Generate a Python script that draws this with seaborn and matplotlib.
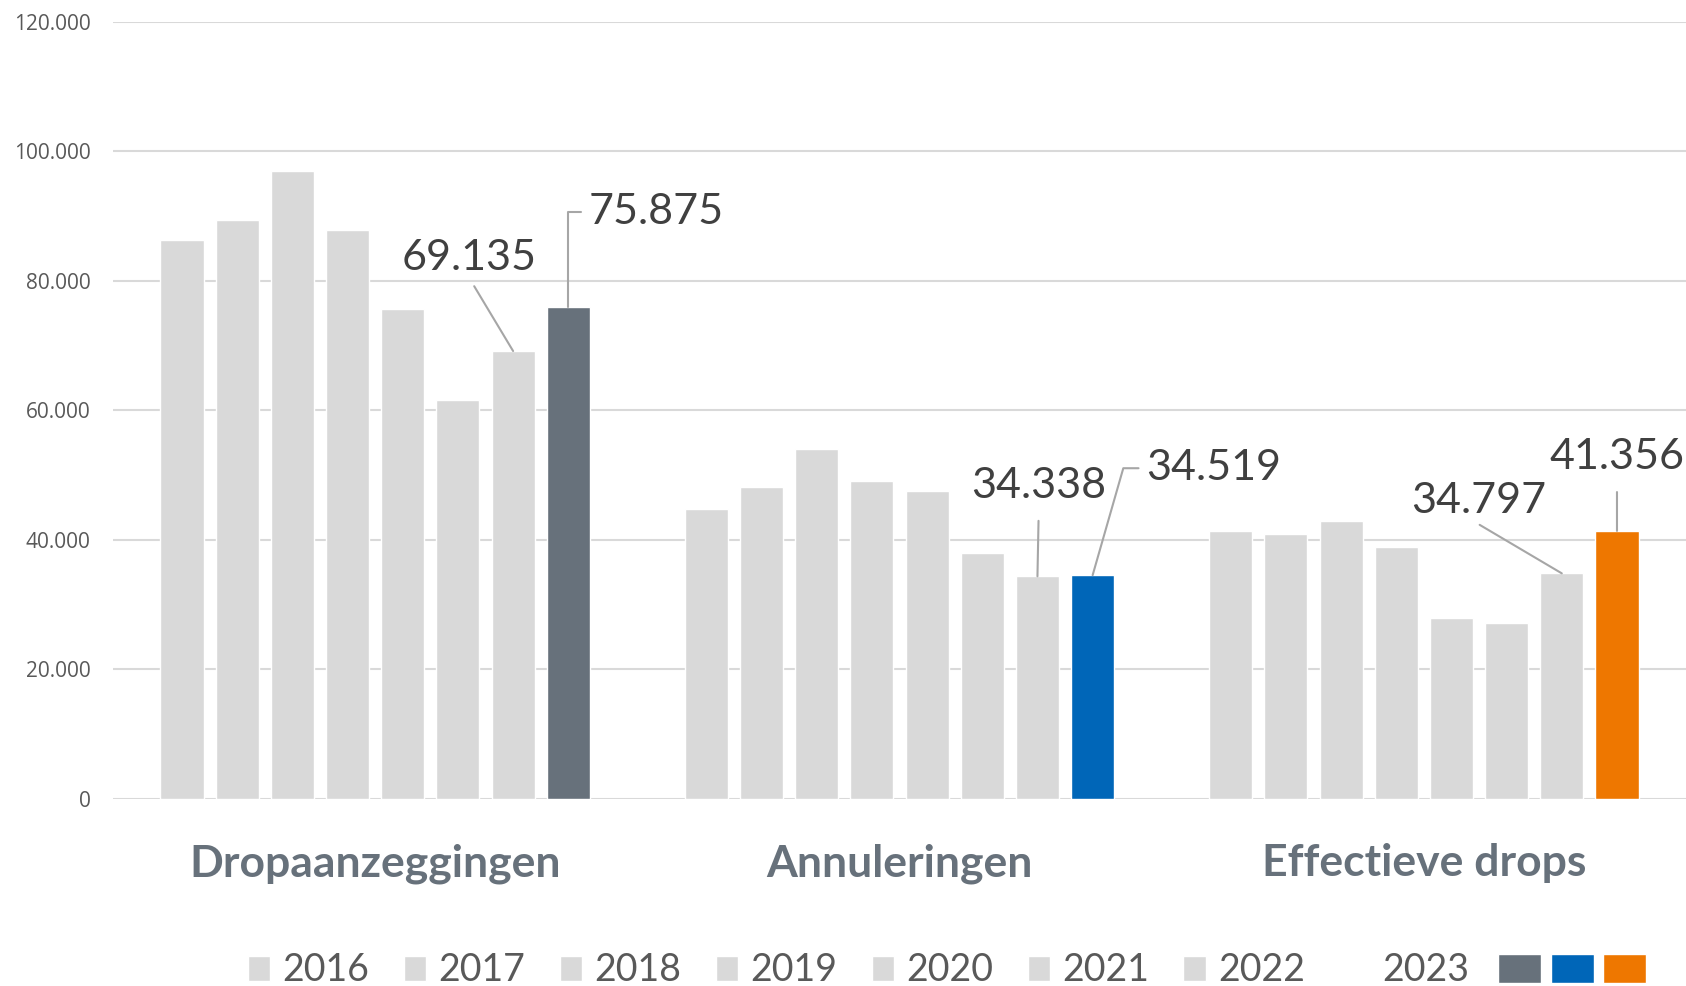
import pandas as pd
import matplotlib
matplotlib.use("Agg")
import matplotlib.pyplot as plt
from matplotlib.patches import Patch
from matplotlib.legend_handler import HandlerTuple
from matplotlib.ticker import FuncFormatter
import seaborn as sns

# Data
categories = ["Dropaanzeggingen", "Annuleringen", "Effectieve drops"]
years = ["2016", "2017", "2018", "2019", "2020", "2021", "2022", "2023"]
dropaanzeggingen = [86300, 89300, 97000, 87900, 75700, 61600, 69135, 75875]
annuleringen = [44800, 48100, 54000, 49000, 47500, 38000, 34338, 34519]
effectieve_drops = [41300, 40900, 42900, 38800, 27900, 27200, 34797, 41356]

base_color = "#d9d9d9"
highlight_colors = ["#67717b", "#0066b8", "#ee7700"]

# Long format table for seaborn
rows = []
for cat, values in zip(categories, [dropaanzeggingen, annuleringen, effectieve_drops]):
    for year, v in zip(years, values):
        rows.append({"categorie": cat, "jaar": year, "aantal": v})
df = pd.DataFrame(rows)

sns.set_style("white")
plt.rcParams["font.family"] = ["Lato", "DejaVu Sans"]


def dutch(v):
    return f"{int(round(v)):,}".replace(",", ".")


fig, ax = plt.subplots(figsize=(16.86, 9.86), dpi=100)
fig.subplots_adjust(left=0.067, right=1.0, bottom=0.19, top=0.978)

sns.barplot(data=df, x="categorie", y="aantal", hue="jaar",
            palette=[base_color] * len(years), width=0.842, gap=0.22,
            legend=False, saturation=1, ax=ax)

# highlight the 2023 bars, one colour per category
for bar, c in zip(ax.containers[-1], highlight_colors):
    bar.set_facecolor(c)

ax.set_ylim(0, 120000)
ax.set_xlim(-0.5, 2.5)
ax.set_yticks(range(0, 120001, 20000))
ax.yaxis.set_major_formatter(FuncFormatter(lambda v, p: dutch(v)))
ax.grid(axis="y", color="#d9d9d9", linewidth=1.5)
ax.set_axisbelow(True)
sns.despine(ax=ax, left=True, bottom=True)
ax.set_xlabel("")
ax.set_ylabel("")

ax.tick_params(axis="x", length=0, pad=32, labelsize=32, labelcolor="#67717b")
for lbl in ax.get_xticklabels():
    lbl.set_fontweight("bold")
ax.tick_params(axis="y", length=0, pad=16, labelsize=15, labelcolor="#595959")
for lbl in ax.get_yticklabels():
    lbl.set_family(["Open Sans", "DejaVu Sans"])

# data labels with leader lines: (category, year index, offset, relpos, connection, shrink)
label_specs = [
    (0, 6, (-32, 67), (0.5, 0.0), "arc3", 5),
    (0, 7, (63, 69), (0.0, 0.5), "angle,angleA=0,angleB=90,rad=0", 3),
    (1, 6, (1, 65), (0.5, 0.0), "arc3", 9),
    (1, 7, (87, 77), (0.0, 0.5), "angle,angleA=0,angleB=74,rad=0", 3),
    (2, 6, (-60, 52), (0.45, 0.0), "arc3", 2),
    (2, 7, (0, 53), (0.5, 0.0), "arc3", 9),
]
for ci, yi, offset, relpos, conn, shrink in label_specs:
    bar = ax.containers[yi][ci]
    x = bar.get_x() + bar.get_width() / 2
    h = bar.get_height()
    ax.annotate(dutch(h), xy=(x, h), xytext=offset, textcoords="offset points",
                ha="center", va="center", fontsize=31, color="#404040",
                annotation_clip=False,
                arrowprops=dict(arrowstyle="-", color="#a6a6a6", lw=1.5,
                                connectionstyle=conn, relpos=relpos,
                                shrinkA=shrink, shrinkB=0))

# legend: grey years, then 2023 with its three colours
fig.legend([Patch(facecolor=base_color) for _ in years[:-1]], years[:-1],
           loc="center left", bbox_to_anchor=(0.147, 0.016), ncol=7,
           frameon=False, fontsize=27, labelcolor="#595959",
           handlelength=0.6, handleheight=0.65, handletextpad=0.32,
           columnspacing=0.92, borderpad=0, borderaxespad=0)
fig.legend([tuple(Patch(facecolor=c) for c in highlight_colors)], [years[-1]],
           handler_map={tuple: HandlerTuple(ndivide=None, pad=0.25)},
           markerfirst=False, loc="center left", bbox_to_anchor=(0.8197, 0.016),
           frameon=False, fontsize=27, labelcolor="#595959",
           handlelength=3.95, handleheight=0.8, handletextpad=0.78,
           borderpad=0, borderaxespad=0)

plt.savefig("out.png", dpi=100)
